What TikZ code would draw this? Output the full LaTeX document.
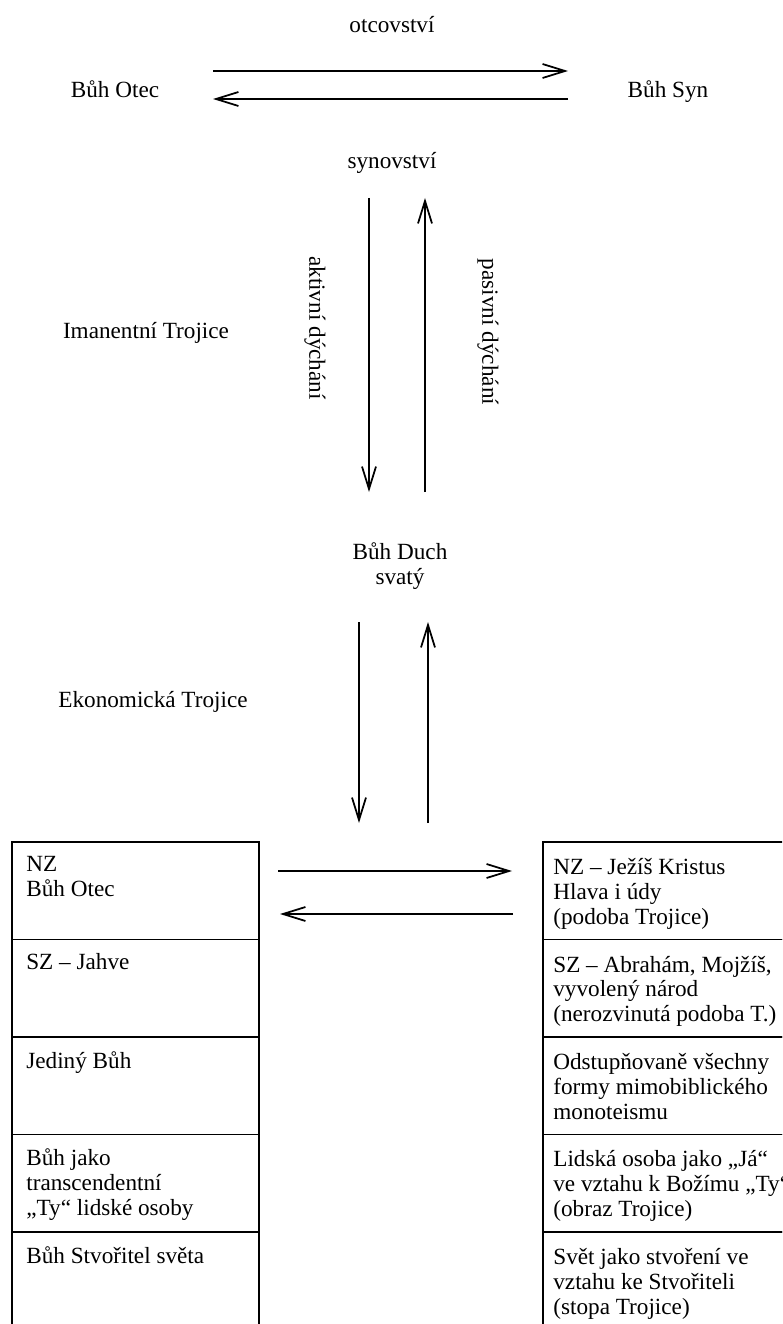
\documentclass[tikz,border=0pt]{standalone}
\usepackage{fontspec}
\setmainfont{Liberation Serif}
\usetikzlibrary{arrows.meta,positioning}
\newcommand{\trfont}{\fontsize{13.2}{14.2}\selectfont}
\tikzset{
  arr/.style={line width=1pt,-{Straight Barb[length=4.5mm,width=2.8mm,line width=1pt]}},
  lbl/.style={font=\trfont,align=center},
  cell/.style={draw,line width=1pt,minimum width=4.94cm,minimum height=1.95cm,inner sep=0pt,outer sep=0pt},
  celltext/.style={anchor=north west,inner sep=0pt,align=left,font=\trfont}
}

\begin{document}
\begin{tikzpicture}
\clip (0,0) rectangle (15.64,-26.48);
% immanentni Trojice
\node[lbl] (otcovstvi) at (7.84,-0.50) {otcovství};
\node[lbl,anchor=base] (otec) at (2.30,-1.95) {Bůh Otec};
\node[lbl,anchor=base] (syn) at (13.36,-1.95) {Bůh Syn};
\node[lbl] (synovstvi) at (7.84,-3.26) {synovství};
\node[lbl] (imanentni) at (2.92,-6.66) {Imanentní Trojice};
\node[lbl,rotate=-90] (aktivni) at (6.30,-6.56) {aktivní dýchání};
\node[lbl,rotate=-90] (pasivni) at (9.76,-6.64) {pasivní dýchání};
\node[lbl] (duch) at (8.00,-11.32) {Bůh Duch\\svatý};
\node[lbl] (ekonomicka) at (3.06,-14.04) {Ekonomická Trojice};
\coordinate (os1) at (4.26,-1.42);
\coordinate (os2) at (11.36,-1.42);
\coordinate (so1) at (11.36,-1.98);
\coordinate (so2) at (4.26,-1.98);
\draw[arr] (os1) -- (os2);
\draw[arr] (so1) -- (so2);
\coordinate (ak1) at (7.38,-3.96);
\coordinate (ak2) at (7.38,-9.84);
\coordinate (pa1) at (8.50,-9.84);
\coordinate (pa2) at (8.50,-3.96);
\draw[arr] (ak1) -- (ak2);
\draw[arr] (pa1) -- (pa2);
% ekonomicka Trojice
\coordinate (ek1) at (7.18,-12.44);
\coordinate (ek2) at (7.18,-16.46);
\coordinate (ep1) at (8.56,-16.46);
\coordinate (ep2) at (8.56,-12.44);
\draw[arr] (ek1) -- (ek2);
\draw[arr] (ep1) -- (ep2);
% sloupce
\node[cell] (L1) at (2.71,-17.815) {};
\node[cell,below=0pt of L1] (L2) {};
\node[cell,below=0pt of L2] (L3) {};
\node[cell,below=0pt of L3] (L4) {};
\node[cell,below=0pt of L4] (L5) {};
\node[cell] (R1) at (13.33,-17.815) {};
\node[cell,below=0pt of R1] (R2) {};
\node[cell,below=0pt of R2] (R3) {};
\node[cell,below=0pt of R3] (R4) {};
\node[cell,below=0pt of R4] (R5) {};
\node[celltext] (L1t) at ([xshift=0.28cm,yshift=-0.28cm]L1.north west) {NZ\\Bůh Otec};
\node[celltext] (L2t) at ([xshift=0.28cm,yshift=-0.28cm]L2.north west) {SZ – Jahve};
\node[celltext] (L3t) at ([xshift=0.28cm,yshift=-0.28cm]L3.north west) {Jediný Bůh};
\node[celltext] (L4t) at ([xshift=0.28cm,yshift=-0.28cm]L4.north west) {Bůh jako\\transcendentní\\„Ty“ lidské osoby};
\node[celltext] (L5t) at ([xshift=0.28cm,yshift=-0.28cm]L5.north west) {Bůh Stvořitel světa};
\node[celltext] (R1t) at ([xshift=0.20cm,yshift=-0.32cm]R1.north west) {NZ – Ježíš Kristus\\Hlava i údy\\(podoba Trojice)};
\node[celltext] (R2t) at ([xshift=0.20cm,yshift=-0.32cm]R2.north west) {SZ – Abrahám, Mojžíš,\\vyvolený národ\\(nerozvinutá podoba T.)};
\node[celltext] (R3t) at ([xshift=0.20cm,yshift=-0.32cm]R3.north west) {Odstupňovaně všechny\\formy mimobiblického\\monoteismu};
\node[celltext] (R4t) at ([xshift=0.20cm,yshift=-0.32cm]R4.north west) {Lidská osoba jako „Já“\\ve vztahu k Božímu „Ty“\\(obraz Trojice)};
\node[celltext] (R5t) at ([xshift=0.20cm,yshift=-0.32cm]R5.north west) {Svět jako stvoření ve\\vztahu ke Stvořiteli\\(stopa Trojice)};
\coordinate (lr1) at (5.56,-17.42);
\coordinate (lr2) at (10.24,-17.42);
\coordinate (rl1) at (10.26,-18.28);
\coordinate (rl2) at (5.60,-18.28);
\draw[arr] (lr1) -- (lr2);
\draw[arr] (rl1) -- (rl2);
\end{tikzpicture}
\end{document}
